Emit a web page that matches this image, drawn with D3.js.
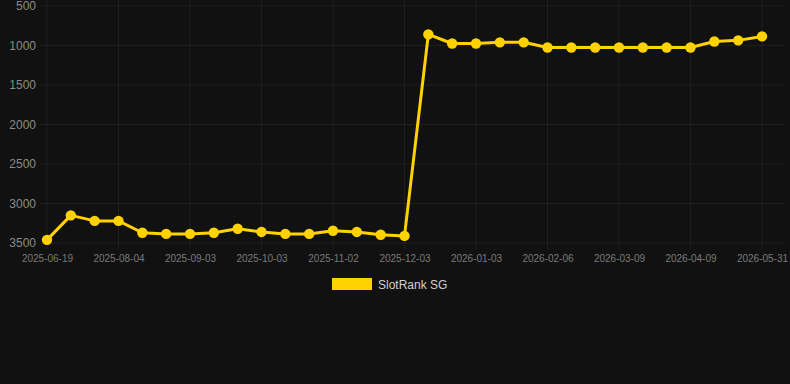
<!DOCTYPE html>
<html>

<head>
    <meta charset="UTF-8">
    <style>
        body { margin: 0; background: #111111; }
        svg { display: block; font-family: "Liberation Sans", Arial, sans-serif; }
        .domain { display: none; }
    </style>
    <script src="https://d3js.org/d3.v7.min.js"></script>
</head>

<body>
    <svg></svg>

    <script>
        let width = 790, height = 384;

        // Data
        let dates = ["2025-06-19", "2025-07-04", "2025-07-19", "2025-08-04", "2025-08-14", "2025-08-24",
            "2025-09-03", "2025-09-13", "2025-09-23", "2025-10-03", "2025-10-13", "2025-10-23",
            "2025-11-02", "2025-11-12", "2025-11-22", "2025-12-03", "2025-12-13", "2025-12-23",
            "2026-01-03", "2026-01-14", "2026-01-25", "2026-02-06", "2026-02-16", "2026-02-26",
            "2026-03-09", "2026-03-19", "2026-03-29", "2026-04-09", "2026-04-26", "2026-05-13", "2026-05-31"];
        let ranks = [3460, 3150, 3220, 3220, 3370, 3385, 3385, 3370, 3320, 3360, 3385, 3385,
            3345, 3360, 3395, 3410, 860, 975, 975, 960, 960, 1025, 1025, 1025,
            1025, 1025, 1025, 1025, 950, 935, 885];
        let yTicks = [500, 1000, 1500, 2000, 2500, 3000, 3500];
        let seriesName = "SlotRank SG";
        let lineColor = "#ffd200";

        let svg = d3.select("svg")
            .attr("width", width)
            .attr("height", height);

        let plotLeft = 40, plotRight = 785, plotTop = 6, plotBottom = 243;

        let x = d3.scalePoint().domain(dates).range([47, 762]);
        let y = d3.scaleLinear().domain([500, 3500]).range([plotTop, plotBottom]);

        let shownDates = dates.filter((d, i) => i % 3 == 0);

        // Grid
        svg.append("g")
            .selectAll("line")
            .data(yTicks)
            .enter()
            .append("line")
            .attr("x1", plotLeft)
            .attr("x2", plotRight)
            .attr("y1", d => y(d))
            .attr("y2", d => y(d))
            .attr("stroke", "rgba(255,255,255,0.055)");

        svg.append("g")
            .selectAll("line")
            .data(shownDates)
            .enter()
            .append("line")
            .attr("x1", d => x(d))
            .attr("x2", d => x(d))
            .attr("y1", 0)
            .attr("y2", plotBottom + 6)
            .attr("stroke", "rgba(255,255,255,0.055)");

        // Axes
        let yAxis = svg.append("g")
            .attr("transform", "translate(" + plotLeft + ",0)")
            .call(d3.axisLeft(y).tickValues(yTicks).tickSize(0).tickPadding(4).tickFormat(d3.format("d")));
        yAxis.selectAll("text")
            .attr("fill", "#8a8a8a")
            .style("font-size", "12px");

        let xAxis = svg.append("g")
            .attr("transform", "translate(0," + plotBottom + ")")
            .call(d3.axisBottom(x).tickValues(shownDates).tickSize(0).tickPadding(12));
        xAxis.selectAll("text")
            .attr("fill", "#7a7a7a")
            .style("font-size", "10px");

        // Line
        let line = d3.line()
            .x((d, i) => x(dates[i]))
            .y(d => y(d));

        svg.append("path")
            .datum(ranks)
            .attr("fill", "none")
            .attr("stroke", lineColor)
            .attr("stroke-width", 3)
            .attr("stroke-linejoin", "round")
            .attr("d", line);

        svg.append("g")
            .selectAll("circle")
            .data(ranks)
            .enter()
            .append("circle")
            .attr("cx", (d, i) => x(dates[i]))
            .attr("cy", d => y(d))
            .attr("r", 5.2)
            .attr("fill", lineColor);

        // Legend
        let legend = svg.append("g");
        legend.append("rect")
            .attr("x", 332)
            .attr("y", 278)
            .attr("width", 40)
            .attr("height", 12)
            .attr("fill", lineColor);
        legend.append("text")
            .attr("x", 378)
            .attr("y", 285)
            .attr("dy", "0.35em")
            .attr("fill", "#d0d0d0")
            .style("font-size", "12px")
            .text(seriesName);
    </script>

</body>

</html>
